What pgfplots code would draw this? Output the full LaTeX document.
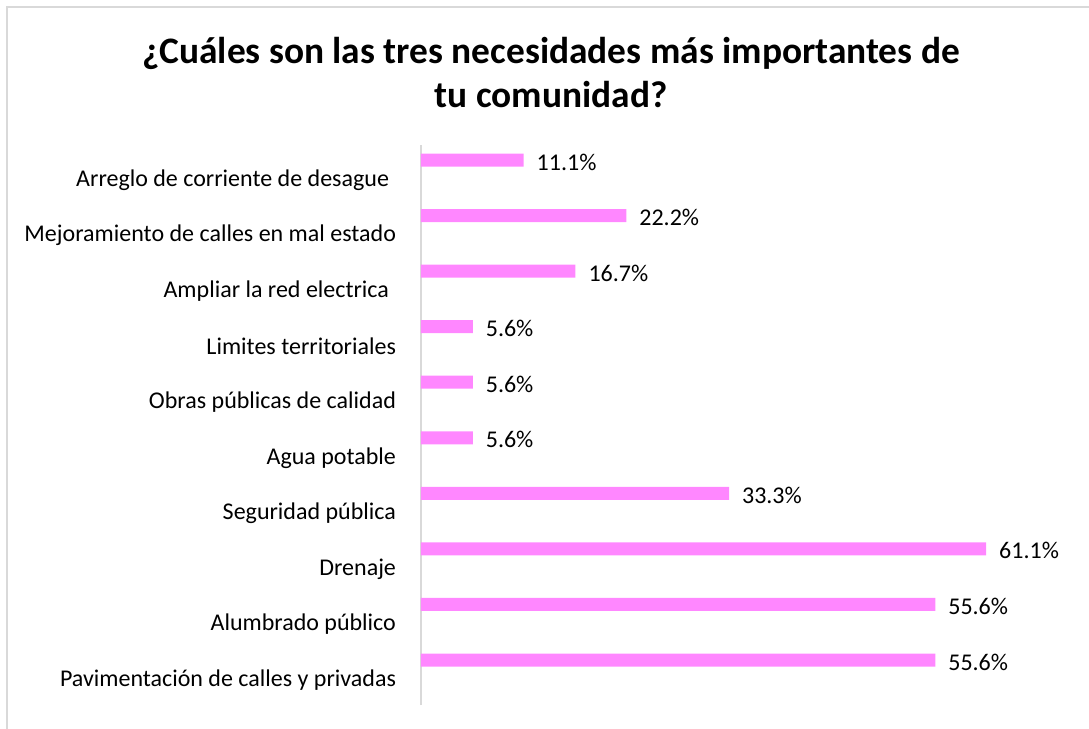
\documentclass[border=0pt]{standalone}
\usepackage{pgfplots}
\pgfplotsset{compat=1.18}
\usepackage{fontspec}
\setmainfont{Carlito}
\definecolor{barpink}{RGB}{255,135,255}
\definecolor{framegray}{RGB}{217,217,217}
\begin{document}
\begin{tikzpicture}[x=0.5pt,y=0.5pt]
% 1 px of the reference = 0.5pt, origin at the top left corner
\useasboundingbox (0,0) rectangle (1089,-729);
\draw[framegray, line width=1pt] (7,-7) rectangle (1200,-800);
\node[font=\fontsize{18.7}{22}\selectfont\bfseries, align=center] at (551,-73)
  {¿Cuáles son las tres necesidades más importantes de\\tu comunidad?};
\begin{axis}[
    at={(210.5pt,-352.5pt)}, anchor=south west,
    scale only axis,
    width=323.75pt, height=280pt,
    xmin=0, xmax=70,
    ymin=-0.45, ymax=9.63,
    axis x line=none,
    axis y line*=left,
    y axis line style={framegray, line width=1pt, -},
    ytick={0,...,9},
    yticklabels={Pavimentación de calles y privadas, Alumbrado público, Drenaje,
      Seguridad pública, Agua potable, Obras públicas de calidad,
      Limites territoriales, Ampliar la red electrica\kern3.5pt,
      Mejoramiento de calles en mal estado, Arreglo de corriente de desague\kern3.5pt},
    major tick length=0pt,
    yticklabel style={font=\fontsize{12}{14}\selectfont, xshift=-9pt},
    clip=false,
    /pgf/number format/assume math mode=true,
]
\addplot[xbar, fill=barpink, draw=none, bar width=6.5pt, bar shift=10pt,
    nodes near coords={\pgfmathprintnumber[fixed,fixed zerofill,precision=1]{\pgfplotspointmeta}\%},
    every node near coord/.append style={font=\fontsize{12}{14}\selectfont, black, xshift=3pt, yshift=9pt}]
  coordinates {
    (55.6,0) (55.6,1) (61.1,2) (33.3,3) (5.6,4)
    (5.6,5) (5.6,6) (16.7,7) (22.2,8) (11.1,9)
  };
\end{axis}
\end{tikzpicture}
\end{document}
